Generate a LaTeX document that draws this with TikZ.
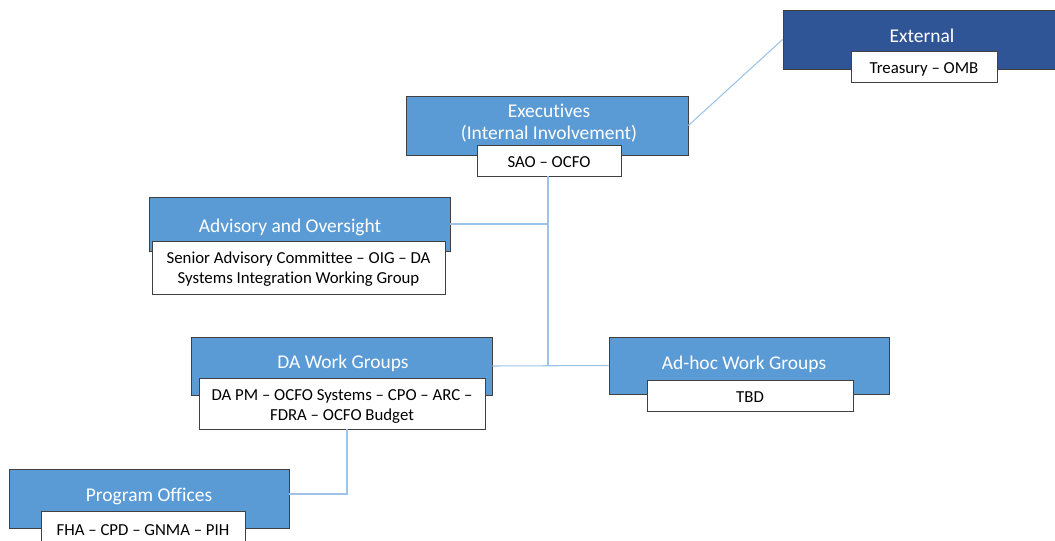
\documentclass[tikz,border=0pt]{standalone}
\usepackage{fontspec}
\setmainfont{Carlito}[Ligatures={NoCommon}]
\definecolor{midblue}{HTML}{5B9BD5}
\definecolor{darkblue}{HTML}{2F5597}
\definecolor{linkblue}{HTML}{9DC3E6}
\definecolor{edgegray}{HTML}{404040}
\begin{document}
\begin{tikzpicture}[x=0.75pt,y=-0.75pt,
  sz/.style 2 args={minimum width=#1*0.75pt,minimum height=#2*0.75pt},
  bluebox/.style={draw=edgegray,fill=midblue,line width=0.6pt,inner sep=0pt},
  darkbox/.style={draw=edgegray,fill=darkblue,line width=0.6pt,inner sep=0pt},
  whitebox/.style={draw=edgegray,fill=white,line width=0.6pt,inner sep=0pt},
  wtext/.style={inner sep=0pt,font=\fontsize{12.6}{15}\selectfont,align=center},
  title/.style={text=white,font=\fontsize{14.6}{16.5}\selectfont,align=center,inner sep=0pt},
  conn/.style={draw=linkblue,line width=0.8pt}]
\useasboundingbox (0,0) rectangle (1055,541);

\coordinate (j1) at (548,366);

% External
\node[darkbox,sz={273}{59}] (ext) at (919.5,39.5) {};
\node[title] (exttxt) at (922,36) {External};
\node[whitebox,sz={146}{31}] (treas) at (924,66.5) {};
\node[wtext] (treastxt) at (924,69) {Treasury – OMB};

% Executives
\node[bluebox,sz={282}{59}] (exe) at (547,125.5) {};
\node[title] (exetxt) at (549,123) {Executives\\(Internal Involvement)};
\node[whitebox,sz={144}{31}] (sao) at (549,160.5) {};
\node[wtext] (saotxt) at (549,162.5) {SAO – OCFO};

% Advisory
\node[bluebox,sz={301}{54}] (adv) at (299.5,224) {};
\node[title] (advtxt) at (290,227) {Advisory and Oversight};
\node[whitebox,sz={293}{53}] (senior) at (298.5,267.5) {};
\node[wtext] (seniortxt) at (298.5,269.5) {Senior Advisory Committee – OIG – DA\\Systems Integration Working Group};

% DA Work Groups
\node[bluebox,sz={301}{58}] (da) at (341.5,366) {};
\node[title] (datxt) at (343,363) {DA Work Groups};
\node[whitebox,sz={286}{51}] (dapm) at (342,403.5) {};
\node[wtext] (dapmtxt) at (342,406) {DA PM – OCFO Systems – CPO – ARC –\\FDRA – OCFO Budget};

% Ad-hoc
\node[bluebox,sz={280}{57}] (adhoc) at (749,365.5) {};
\node[title] (adhoctxt) at (744,364) {Ad-hoc Work Groups};
\node[whitebox,sz={206}{31}] (tbd) at (750,395.5) {};
\node[wtext] (tbdtxt) at (750,397.5) {TBD};

% Program Offices
\node[bluebox,sz={280}{59}] (prog) at (149,498.5) {};
\node[title] (progtxt) at (149,496) {Program Offices};
\node[whitebox,sz={204}{34}] (fha) at (143,528) {};
\node[wtext] (fhatxt) at (143,530) {FHA – CPD – GNMA – PIH};

% connectors
\draw[conn] (exe.east) -- (ext.west);
\draw[conn] (sao.south -| j1) -- (j1);
\draw[conn] (adv.east) -- (adv.east -| j1);
\draw[conn] (da.east) -- (adhoc.west);
\coordinate (j2) at (347,494);
\draw[conn] (dapm.south -| j2) -- (j2) -- (prog.east |- j2);
\end{tikzpicture}
\end{document}
